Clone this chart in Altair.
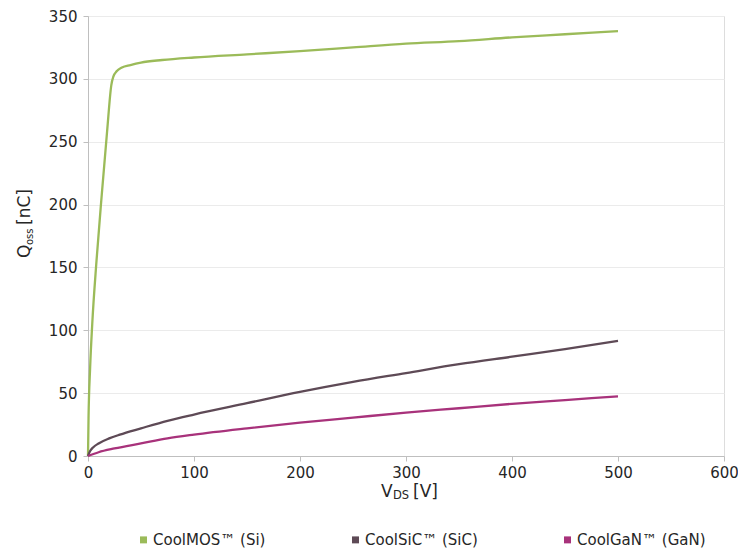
import altair as alt
import pandas as pd

# --- data ---
si_v = [0, 0.5, 2, 4, 8, 13, 18, 22, 24, 27, 32, 40, 50, 70, 100, 150, 200, 250, 300, 350, 400, 450, 500]
si_q = [0, 30, 70, 105, 155, 208, 258, 295, 302, 306, 309, 311, 313, 315, 317, 319.5, 322, 325, 328, 330, 333, 335.5, 338]

sic_v = [0, 2, 5, 10, 20, 30, 50, 75, 100, 150, 200, 250, 300, 350, 400, 450, 500]
sic_q = [0, 4, 7, 10, 14, 17, 22, 28, 33, 42, 51, 59, 66, 73, 79, 85, 91.5]

gan_v = [0, 10, 25, 50, 75, 100, 150, 200, 250, 300, 350, 400, 450, 500]
gan_q = [0, 3, 6, 10, 14, 17, 22, 26.5, 30.5, 34.5, 38, 41.5, 44.5, 47.5]

series_names = ["CoolMOS™ (Si)", "CoolSiC™ (SiC)", "CoolGaN™ (GaN)"]
series_colors = ["#9BBB59", "#5E4A56", "#A8327B"]

x_ticks = [0, 100, 200, 300, 400, 500, 600]
y_ticks = [0, 50, 100, 150, 200, 250, 300, 350]

rows = []
for name, vs, qs in zip(series_names, [si_v, sic_v, gan_v], [si_q, sic_q, gan_q]):
    for i, (v, q) in enumerate(zip(vs, qs)):
        rows.append({"series": name, "V": v, "Q": q, "order": i})
df = pd.DataFrame(rows)

FONT = "DejaVu Sans"
TXT = "#262626"
W, H = 636, 440

lines = alt.Chart(df).mark_line(strokeWidth=2.3, interpolate="monotone").encode(
    x=alt.X("V:Q", scale=alt.Scale(domain=[0, 600], nice=False),
            axis=alt.Axis(values=x_ticks, title=None, grid=False, labelFontSize=15,
                          labelFont=FONT, labelColor=TXT, domainColor="#BFBFBF",
                          tickColor="#BFBFBF", tickSize=5, labelPadding=4,
                          labelFlush=False)),
    y=alt.Y("Q:Q", scale=alt.Scale(domain=[0, 350], nice=False),
            axis=alt.Axis(values=y_ticks, title=None, grid=True, gridColor="#EBEBEB",
                          labelFontSize=15, labelFont=FONT, labelColor=TXT,
                          domainColor="#BFBFBF", tickColor="#BFBFBF", tickSize=5,
                          labelPadding=6, labelFlush=False)),
    color=alt.Color("series:N",
                    scale=alt.Scale(domain=series_names, range=series_colors),
                    legend=alt.Legend(title=None, orient="none", direction="horizontal",
                                      legendX=48, legendY=516, symbolType="square",
                                      symbolSize=12, symbolStrokeWidth=3.5,
                                      labelFontSize=15, labelFont=FONT,
                                      labelColor=TXT, columnPadding=80,
                                      labelOffset=2, labelLimit=300)),
    order="order:Q",
)

def txt(s, x, y, size, angle=0):
    return alt.Chart(pd.DataFrame({"t": [s]})).mark_text(
        font=FONT, fontSize=size, align="left", baseline="alphabetic",
        color=TXT, angle=angle
    ).encode(x=alt.value(x), y=alt.value(y), text="t:N")

titles = [
    txt("V", 293, 481, 17),
    txt("DS", 305, 483, 11.5),
    txt("[V]", 325, 481, 17),
    txt("Q", -58, 242, 17, 270),
    txt("oss", -55, 229, 10, 270),
    txt("[nC]", -58, 209, 17, 270),
]

chart = alt.layer(lines, *titles).properties(
    width=W, height=H,
    autosize=alt.AutoSizeParams(type="none"),
    padding={"left": 80, "top": 8, "right": 14, "bottom": 95},
).configure_view(stroke=None).configure(background="white")

chart.save("out.html", embed_options={"renderer": "svg", "actions": False})
